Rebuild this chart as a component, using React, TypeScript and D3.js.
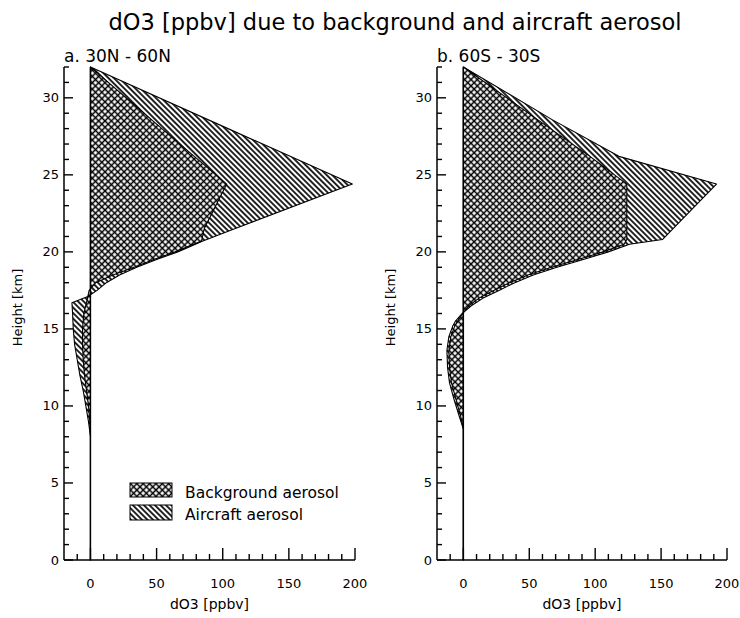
import React from "react";
import * as d3 from "d3";

// ---------- data ----------
const heightsA = [0, 8, 9, 10, 11, 12, 13, 14, 15, 16, 16.7, 17.1, 17.5, 18, 18.5, 19, 19.5, 20, 20.7, 21.5, 24.4, 28, 32];
const totalA = [0, 0, -1.5, -3.5, -5.5, -8, -10, -12, -13, -13.5, -14, -2, 5, 12, 22, 35, 50, 66, 85, 109, 198, 104, 0];
const backgroundA = [0, 0, -0.5, -1.5, -3, -4.5, -5.5, -6, -6, -5, -3, -2, -1, 4, 17, 33, 48, 64, 84, 86, 103, 54, 0];

const heightsB = [0, 8.5, 9.3, 10.4, 11.5, 12.5, 13.6, 14.5, 15.2, 15.5, 16, 16.5, 17, 17.5, 18, 18.5, 19, 19.5, 20, 20.5, 20.8, 24.4, 26.2, 28.6, 32];
const totalB = [0, 0, -3, -7, -10.5, -12, -12.5, -11, -8, -6, -1, 6, 15, 27, 39, 53, 71, 91, 110, 126, 151, 192, 118, 67, 0];
const backgroundB = [0, 0, -2, -5.5, -9, -10.5, -11, -9.5, -6.5, -4.5, -0.5, 4, 12, 23, 35, 49, 67, 87, 106, 122, 124, 124, 96, 56, 0];

const xMajorTicks = [0, 50, 100, 150, 200];
const yMajorTicks = [0, 5, 10, 15, 20, 25, 30];
const xDomain = [-20, 200];
const yDomain = [0, 32];

const panelTitles = ["a. 30N - 60N", "b. 60S - 30S"];
const legendLabels = ["Background aerosol", "Aircraft aerosol"];
const chartTitle = "dO3 [ppbv] due to background and aircraft aerosol";
const xAxisTitle = "dO3 [ppbv]";
const yAxisTitle = "Height [km]";

const FONT = "'DejaVu Sans', 'Liberation Sans', Arial, sans-serif";

type PanelProps = {
  left: number;
  right: number;
  heights: number[];
  total: number[];
  background: number[];
  title: string;
  showLegend: boolean;
};

function Panel({ left, right, heights, total, background, title, showLegend }: PanelProps) {
  const top = 67;
  const bottom = 560;
  const x = d3.scaleLinear().domain(xDomain).range([left, right]);
  const y = d3.scaleLinear().domain(yDomain).range([bottom, top]);

  const rowsTotal = heights.map((h, i) => ({ h, v: total[i] }));
  const rowsBg = heights.map((h, i) => ({ h, v: background[i] }));

  const area = d3
    .area<{ h: number; v: number }>()
    .y((d) => y(d.h))
    .x0(() => x(0))
    .x1((d) => x(d.v));

  const xMinor = d3.range(-10, 201, 10).filter((v) => !xMajorTicks.includes(v));
  const yMinor = d3.range(0, 33, 1).filter((v) => !yMajorTicks.includes(v));

  const cx = (left + right) / 2;
  const cy = (top + bottom) / 2;

  return (
    <g>
      <path d={area(rowsTotal) || ""} fill="url(#diagHatch)" stroke="#000" strokeWidth={1.1} strokeLinejoin="round" />
      <path d={area(rowsBg) || ""} fill="url(#crossHatch)" stroke="#000" strokeWidth={1.1} strokeLinejoin="round" />
      <line x1={x(0)} x2={x(0)} y1={y(0)} y2={y(32)} stroke="#000" strokeWidth={1.4} />

      {/* axes */}
      <line x1={left} x2={left} y1={bottom} y2={top} stroke="#000" strokeWidth={1.5} />
      <line x1={left} x2={right} y1={bottom} y2={bottom} stroke="#000" strokeWidth={1.5} />

      {xMajorTicks.map((t) => (
        <g key={"xm" + t}>
          <line x1={x(t)} x2={x(t)} y1={bottom} y2={bottom - 12} stroke="#000" strokeWidth={1.4} />
          <text x={x(t)} y={588} textAnchor="middle" fontSize={13} fontFamily={FONT}>
            {t}
          </text>
        </g>
      ))}
      {xMinor.map((t) => (
        <line key={"xn" + t} x1={x(t)} x2={x(t)} y1={bottom} y2={bottom - 6} stroke="#000" strokeWidth={1.4} />
      ))}
      {yMajorTicks.map((t) => (
        <g key={"ym" + t}>
          <line x1={left} x2={left + 9} y1={y(t)} y2={y(t)} stroke="#000" strokeWidth={1.4} />
          <text x={left - 5} y={y(t) + 4.5} textAnchor="end" fontSize={13} fontFamily={FONT}>
            {t}
          </text>
        </g>
      ))}
      {yMinor.map((t) => (
        <line key={"yn" + t} x1={left} x2={left + 5} y1={y(t)} y2={y(t)} stroke="#000" strokeWidth={1.4} />
      ))}

      <text x={cx} y={609} textAnchor="middle" fontSize={14} fontFamily={FONT}>
        {xAxisTitle}
      </text>
      <text
        transform={`translate(${left - 42},${cy - 6}) rotate(-90)`}
        textAnchor="middle"
        fontSize={13}
        fontFamily={FONT}
      >
        {yAxisTitle}
      </text>
      <text x={left} y={62} fontSize={17} fontFamily={FONT}>
        {title}
      </text>

      {showLegend && (
        <g>
          <rect x={130} y={483} width={42} height={14} fill="url(#crossHatch)" stroke="#000" strokeWidth={1} />
          <text x={185} y={498} fontSize={15.5} fontFamily={FONT}>
            {legendLabels[0]}
          </text>
          <rect x={130} y={505} width={42} height={15} fill="url(#diagHatch)" stroke="#000" strokeWidth={1} />
          <text x={185} y={520} fontSize={15.5} fontFamily={FONT}>
            {legendLabels[1]}
          </text>
        </g>
      )}
    </g>
  );
}

export default function App() {
  return (
    <svg
      width={740}
      height={618}
      style={{ position: "absolute", left: 0, top: 0, background: "#fff" }}
      xmlns="http://www.w3.org/2000/svg"
    >
      <defs>
        <pattern id="crossHatch" width={4.5} height={4.5} patternUnits="userSpaceOnUse" patternTransform="rotate(45)">
          <rect width={4.5} height={4.5} fill="#fff" />
          <line x1={2.25} y1={0} x2={2.25} y2={4.5} stroke="#000" strokeWidth={1.5} />
          <line x1={0} y1={2.25} x2={4.5} y2={2.25} stroke="#000" strokeWidth={1.5} />
        </pattern>
        <pattern id="diagHatch" width={3.9} height={3.9} patternUnits="userSpaceOnUse" patternTransform="rotate(-45)">
          <rect width={3.9} height={3.9} fill="#fff" />
          <line x1={1.95} y1={0} x2={1.95} y2={3.9} stroke="#000" strokeWidth={1.7} />
        </pattern>
      </defs>
      <rect width={740} height={618} fill="#fff" />
      <text x={395} y={30} textAnchor="middle" fontSize={22.5} fontFamily={FONT}>
        {chartTitle}
      </text>
      <Panel left={64} right={355} heights={heightsA} total={totalA} background={backgroundA} title={panelTitles[0]} showLegend={true} />
      <Panel left={437} right={727} heights={heightsB} total={totalB} background={backgroundB} title={panelTitles[1]} showLegend={false} />
    </svg>
  );
}
